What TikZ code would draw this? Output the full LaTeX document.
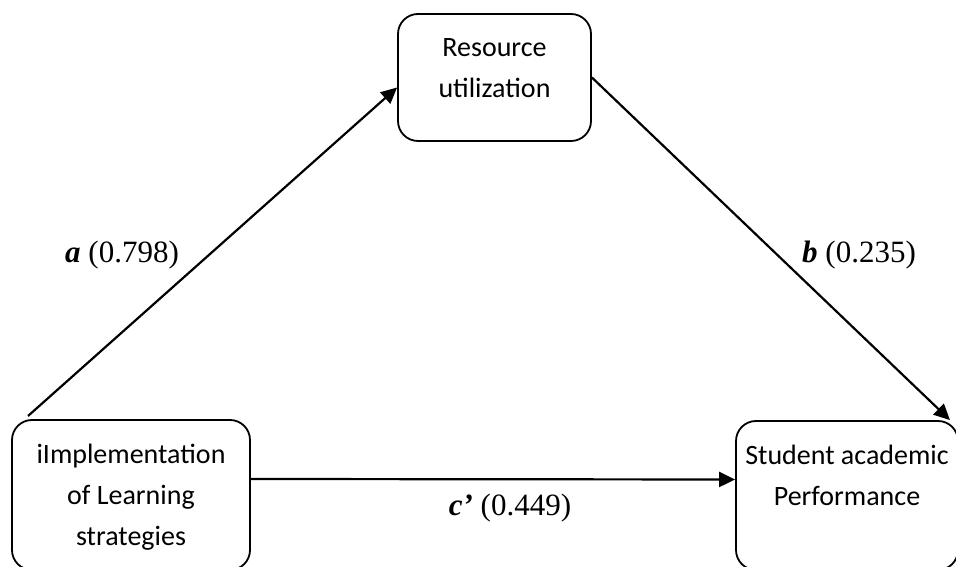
\documentclass[tikz,border=0pt]{standalone}
\usepackage{fontspec}
\setmainfont{Carlito}
\newfontfamily\labelfont{Liberation Serif}
\usetikzlibrary{arrows.meta,positioning}

\begin{document}
\begin{tikzpicture}[x=1pt,y=1pt,>={Triangle[length=16pt,width=15pt]},
  box/.style={draw,line width=1.8pt,rounded corners=20pt,align=center,inner sep=0pt,font=\fontsize{28}{41}\selectfont},
  coef/.style={font=\labelfont\fontsize{31}{37}\selectfont},
  path/.style={->,line width=2.2pt}]
\clip (0,0) rectangle (956,567);
\node[box,minimum width=193pt,minimum height=127pt,text depth=19.6pt] (res) at (494.5,489.5) {Resource\\utilization};
\node[box,minimum width=238pt,minimum height=150pt,text depth=0pt] (impl) at (131,72) {iImplementation\\of Learning\\strategies};
\node[box,minimum width=222pt,minimum height=149pt,text depth=39.5pt] (perf) at (847,71.5) {Student academic\\Performance};
\coordinate (astart) at (28,151);
\draw[path] (astart) -- ([yshift=-10pt]res.west);
\draw[path] (res.east) -- ([xshift=103pt]perf.north);
\draw[path] ([yshift=16pt]impl.east) -- ([yshift=16pt]perf.west);
\node[coef] (alab) at (122,312) {\textbf{\textit{a}} (0.798)};
\node[coef] (blab) at (859,312) {\textbf{\textit{b}} (0.235)};
\node[coef] (clab) at (510,59) {\textbf{\textit{c’}} (0.449)};
\end{tikzpicture}
\end{document}
